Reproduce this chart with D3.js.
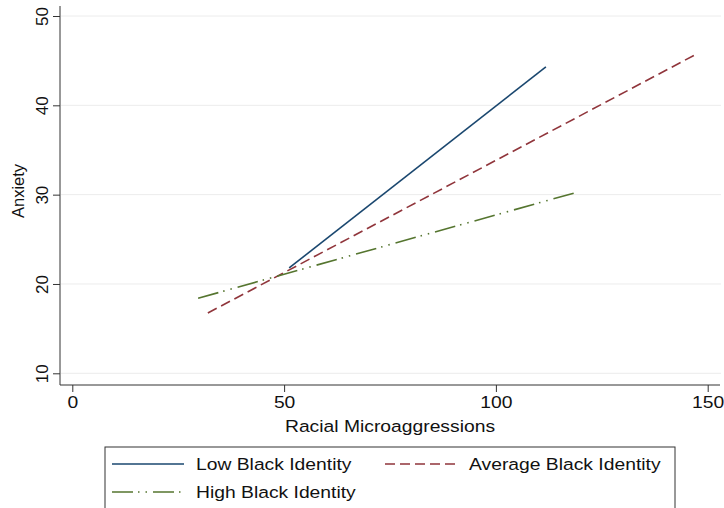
<!DOCTYPE html>
<html>
<head>
<meta charset="utf-8">
<script src="https://cdn.jsdelivr.net/npm/d3@7"></script>
<style>
  body { margin: 0; background: #fff; }
  text { font-family: "Liberation Sans", Arial, sans-serif; fill: #111; }
</style>
</head>
<body>
<script>
// line endpoints: [x, y]
const lowIdentity = [[51.2, 21.8], [111.8, 44.3]];
const avgIdentity = [[32.0, 16.75], [147.4, 45.75]];
const highIdentity = [[29.7, 18.4], [118.6, 30.2]];
const xTicks = [0, 50, 100, 150];
const yTicks = [10, 20, 30, 40, 50];
const seriesNames = ['Low Black Identity', 'Average Black Identity', 'High Black Identity'];

const w = 724;
const h = 508;
const stretch = 1.17; // the original image is a bit wider than tall

const xScale = d3.scaleLinear().domain([0, 150]).range([72.3, 707.7]);
const yScale = d3.scaleLinear().domain([10, 50]).range([373.3, 16]);

const svg = d3.select('body').append('svg')
  .attr('width', w)
  .attr('height', h);

// gridlines
svg.append('g')
  .selectAll('line')
  .data(yTicks)
  .enter()
  .append('line')
  .attr('x1', 61).attr('x2', 721)
  .attr('y1', d => yScale(d)).attr('y2', d => yScale(d))
  .attr('stroke', '#ececec')
  .attr('stroke-width', 1);

const xAxis = d3.axisBottom(xScale).tickValues(xTicks).tickSize(7).tickPadding(4).tickSizeOuter(0);
const yAxis = d3.axisLeft(yScale).tickValues(yTicks).tickSize(7).tickSizeOuter(0);

const gx = svg.append('g')
  .attr('transform', 'translate(0,385)')
  .call(xAxis);
gx.select('.domain').attr('d', 'M60,0H720').attr('stroke', '#333');
gx.selectAll('.tick line').attr('stroke', '#333');
gx.selectAll('.tick text').attr('font-size', 16.5).attr('fill', '#111')
  .attr('font-family', '"Liberation Sans", Arial, sans-serif')
  .attr('transform', `scale(${stretch},1)`);

const gy = svg.append('g')
  .attr('transform', 'translate(60,0)')
  .call(yAxis);
gy.select('.domain').attr('d', 'M0,6V385').attr('stroke', '#333');
gy.selectAll('.tick line').attr('stroke', '#333');
gy.selectAll('.tick text')
  .attr('font-size', 17).attr('fill', '#111')
  .attr('font-family', '"Liberation Sans", Arial, sans-serif')
  .attr('x', null).attr('dy', null)
  .attr('text-anchor', 'middle')
  .attr('transform', 'translate(-12,0) rotate(-90)');

svg.append('text')
  .text('Anxiety')
  .attr('font-size', 16.5)
  .attr('text-anchor', 'middle')
  .attr('transform', 'translate(24,191) rotate(-90)');

svg.append('text')
  .text('Racial Microaggressions')
  .attr('font-size', 16.5)
  .attr('text-anchor', 'middle')
  .attr('transform', `translate(390,432) scale(${stretch},1)`);

const line = d3.line().x(d => xScale(d[0])).y(d => yScale(d[1]));

const styles = [
  { data: lowIdentity, color: '#1a476f', dash: null },
  { data: avgIdentity, color: '#90353b', dash: '10,5' },
  { data: highIdentity, color: '#55752f', dash: '21,5,1.5,6,1.5,6' }
];

svg.append('g')
  .selectAll('path')
  .data(styles)
  .enter()
  .append('path')
  .attr('d', d => line(d.data))
  .attr('fill', 'none')
  .attr('stroke', d => d.color)
  .attr('stroke-width', 1.6)
  .attr('stroke-dasharray', d => d.dash);

// legend
const legend = svg.append('g');
legend.append('rect')
  .attr('x', 105).attr('y', 447)
  .attr('width', 570).attr('height', 70)
  .attr('fill', '#fff')
  .attr('stroke', '#333')
  .attr('stroke-width', 1);

const legendPos = [[112, 464], [385, 464], [112, 492]];
styles.forEach((s, i) => {
  const [lx, ly] = legendPos[i];
  legend.append('line')
    .attr('x1', lx).attr('x2', lx + 72)
    .attr('y1', ly).attr('y2', ly)
    .attr('stroke', s.color)
    .attr('stroke-width', 1.6)
    .attr('stroke-dasharray', s.dash);
  legend.append('text')
    .text(seriesNames[i])
    .attr('font-size', 16.5)
    .attr('transform', `translate(${lx + 84},${ly + 6}) scale(${stretch},1)`);
});
</script>
</body>
</html>
